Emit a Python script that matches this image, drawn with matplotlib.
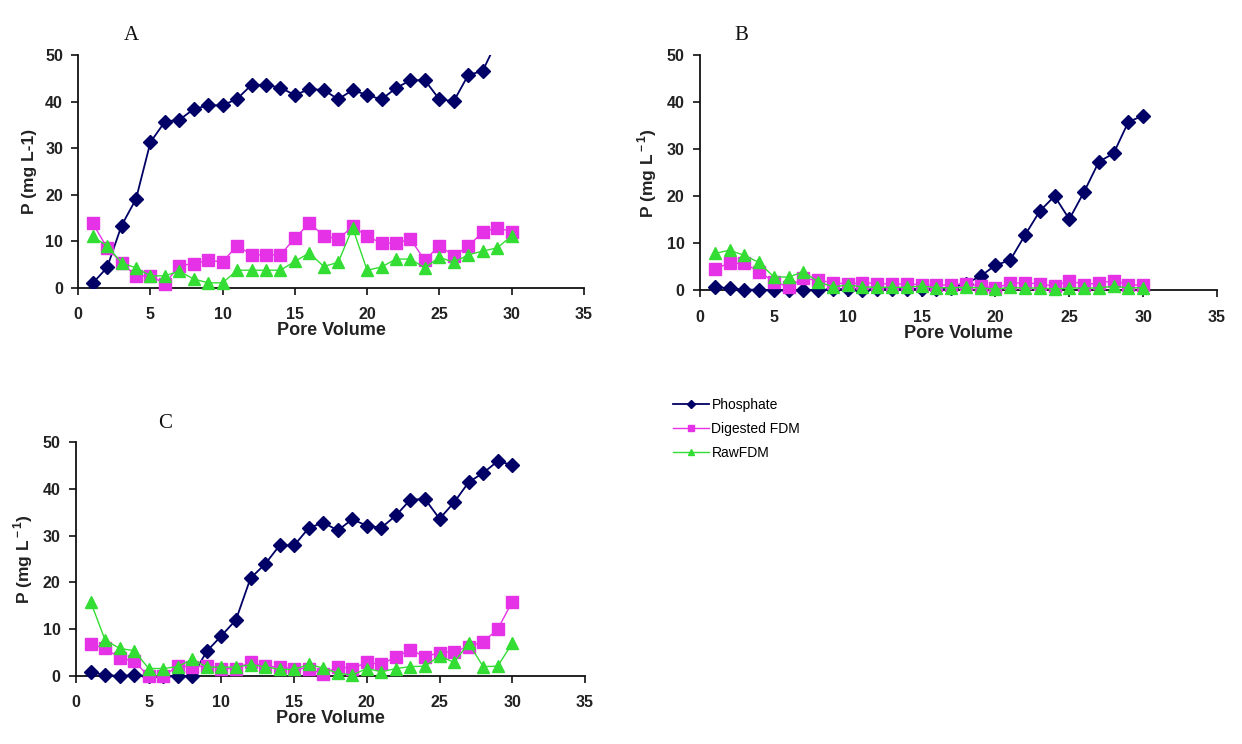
import matplotlib.pyplot as plt

plt.rcParams['font.family'] = ['Liberation Sans', 'DejaVu Sans']
plt.rcParams['mathtext.fontset'] = 'custom'
plt.rcParams['mathtext.rm'] = 'Liberation Sans:bold'

# pore volumes (x values)
pv = list(range(1, 31))

# panel A
a_phosphate = [1.0, 4.4, 13.4, 19.1, 31.3, 35.7, 36.1, 38.4, 39.2, 39.2,
               40.6, 43.6, 43.6, 43.0, 41.4, 42.7, 42.5, 40.5, 42.5, 41.4,
               40.5, 42.9, 44.6, 44.6, 40.5, 40.1, 45.7, 46.6, 53.0]
a_digested = [13.9, 8.6, 5.4, 2.6, 2.6, 0.9, 4.8, 5.2, 5.9, 5.6,
              9.1, 7.1, 7.1, 7.1, 10.7, 13.9, 11.2, 10.5, 13.2, 11.1,
              9.6, 9.6, 10.5, 5.9, 9.1, 6.9, 8.9, 12.0, 12.9, 12.1]
a_raw = [11.1, 9.0, 5.4, 4.3, 2.6, 2.6, 3.6, 1.9, 1.1, 1.1,
         3.8, 3.8, 3.8, 3.8, 5.7, 7.5, 4.6, 5.5, 12.9, 3.8,
         4.5, 6.2, 6.2, 4.3, 6.6, 5.5, 7.1, 7.9, 8.6, 11.1]

# panel B
b_phosphate = [0.7, 0.4, 0.1, 0.1, 0.0, 0.0, 0.0, 0.0, 0.2, 0.2,
               0.1, 0.2, 0.2, 0.2, 0.3, 0.3, 0.5, 1.4, 3.0, 5.3,
               6.4, 11.7, 16.8, 20.0, 15.1, 20.9, 27.3, 29.1, 35.8, 37.1]
b_digested = [4.6, 5.7, 5.7, 3.9, 1.8, 0.7, 2.5, 2.1, 1.6, 1.3,
              1.6, 1.4, 1.3, 1.3, 1.2, 1.0, 1.2, 1.3, 0.9, 0.4,
              1.5, 1.5, 1.4, 0.8, 2.0, 1.2, 1.5, 2.0, 1.2, 1.0]
b_raw = [7.8, 8.5, 7.4, 5.9, 2.8, 2.8, 3.9, 1.8, 0.7, 1.1,
         0.7, 0.6, 0.6, 0.6, 0.9, 0.5, 0.5, 0.6, 0.5, 0.2,
         0.6, 0.4, 0.5, 0.2, 0.5, 0.4, 0.5, 0.8, 0.5, 0.5]

# panel C
c_phosphate = [0.9, 0.2, 0.0, 0.2, 0.0, 0.0, 0.0, 0.0, 5.3, 8.6,
               12.0, 20.9, 23.9, 27.9, 27.9, 31.6, 32.8, 31.1, 33.5, 32.1,
               31.7, 34.3, 37.7, 37.8, 33.6, 37.1, 41.4, 43.4, 45.9, 45.1]
c_digested = [6.8, 5.9, 3.9, 3.1, 0.0, 0.0, 2.1, 2.0, 2.1, 1.6,
              1.6, 2.9, 2.1, 1.9, 1.6, 1.6, 0.4, 2.0, 1.6, 2.9,
              2.5, 4.1, 5.6, 4.1, 5.0, 5.2, 6.3, 7.3, 10.0, 15.9]
c_raw = [15.9, 7.7, 5.9, 5.4, 1.6, 1.6, 2.0, 3.6, 1.9, 1.9,
         1.9, 2.4, 2.0, 1.4, 1.4, 2.5, 1.7, 0.6, 0.2, 1.6,
         0.9, 1.6, 2.0, 2.1, 4.3, 2.9, 7.0, 2.0, 2.1, 7.0]

series_names = ["Phosphate", "Digested FDM", "RawFDM"]
xticks = [0, 5, 10, 15, 20, 25, 30, 35]
yticks = [0, 10, 20, 30, 40, 50]

PHOS = '#000066'
DIG = '#e632e6'
RAW = '#33dd33'
TXT = '#222222'

fig = plt.figure(figsize=(12.42, 7.44), dpi=100)

panels = [
    ("A", [0.063, 0.613, 0.407, 0.313], a_phosphate, a_digested, a_raw, "P (mg L-1)"),
    ("B", [0.5636, 0.610, 0.4163, 0.316], b_phosphate, b_digested, b_raw, r"P (mg L$^{\rm -1}$)"),
    ("C", [0.0612, 0.0914, 0.4098, 0.3145], c_phosphate, c_digested, c_raw, r"P (mg L$^{\rm -1}$)"),
]
title_pos = {"A": (131, 36), "B": (741, 36), "C": (165, 423)}

handles = None
for name, rect, ph, dg, rw, ylab in panels:
    ax = fig.add_axes(rect)
    l1, = ax.plot(pv[:len(ph)], ph, color=PHOS, marker='D', markersize=7,
                  linewidth=1.3, clip_on=(name == "A"), zorder=3)
    l2, = ax.plot(pv, dg, color=DIG, marker='s', markersize=8,
                  linewidth=1.0, clip_on=False, zorder=4)
    l3, = ax.plot(pv, rw, color=RAW, marker='^', markersize=8,
                  linewidth=1.0, clip_on=False, zorder=5)
    handles = [l1, l2, l3]

    ax.set_xlim(0, 35)
    ax.set_ylim(0, 50)
    ax.set_xticks(xticks)
    ax.set_yticks(yticks)
    for s in ['top', 'right']:
        ax.spines[s].set_visible(False)
    for s in ['left', 'bottom']:
        ax.spines[s].set_linewidth(1.3)
        ax.spines[s].set_color('#111111')
    ax.tick_params(direction='out', length=5, width=1.2, color='#111111',
                   labelsize=11.5, labelcolor=TXT, pad=6)
    ax.tick_params(axis='x', pad=9)
    for lab in ax.get_xticklabels() + ax.get_yticklabels():
        lab.set_fontweight('bold')
    ax.set_xlabel("Pore Volume", fontsize=13, fontweight='bold', color=TXT, labelpad=0)
    ax.set_ylabel(ylab, fontsize=12.5, fontweight='bold', color=TXT, labelpad=6)

    tx, ty = title_pos[name]
    fig.text(tx / 1242, 1 - ty / 744, name, fontsize=15, family='Liberation Serif',
             ha='center', va='center', color='#111111')

leg = fig.legend(handles, series_names, loc='upper left',
                 bbox_to_anchor=(660 / 1242, 1 - 385 / 744), frameon=False,
                 fontsize=10, handlelength=2.6, handletextpad=0.2,
                 labelspacing=0.75, markerscale=0.6)

fig.savefig("out.png", dpi=100)
